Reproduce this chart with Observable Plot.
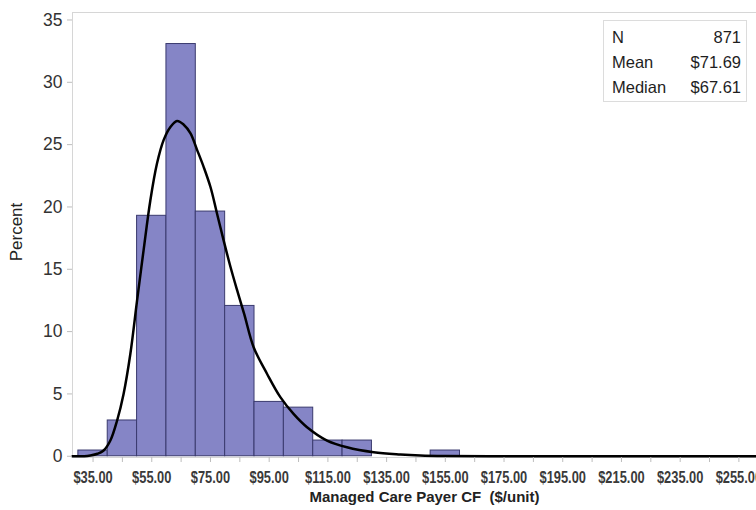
<!DOCTYPE html>
<html>
<head>
<meta charset="utf-8">
<script src="https://cdn.jsdelivr.net/npm/d3@7"></script>
<script src="https://cdn.jsdelivr.net/npm/@observablehq/plot@0.6"></script>
<style>
  html, body { margin: 0; padding: 0; background: #fff; }
  #wrap { position: relative; width: 756px; height: 510px; overflow: hidden;
          font-family: "Liberation Sans", Arial, Helvetica, sans-serif; }
  #stats { position: absolute; left: 603px; top: 20px; width: 144px; height: 82px;
           border: 1px solid #dcdcdc; box-sizing: border-box; background: #fff;
           font-size: 16.5px; color: #1e1e1e; padding: 4px 5px 0 8px; }
  #stats .row { display: flex; justify-content: space-between; height: 25px; line-height: 25px; }
</style>
</head>
<body>
<div id="wrap"></div>
<script>
// Histogram bins (lower edge, $) and percent of observations
const binWidth = 10;
const binStart   = [30, 40, 50, 60, 70, 80, 90, 100, 110, 120, 150];
const binPercent = [0.46, 2.87, 19.29, 33.07, 19.63, 12.06, 4.36, 3.90, 1.26, 1.26, 0.46];

// Fitted density curve
const curveX = [28, 32, 34.1, 36.5, 38.6, 40.9, 43.2, 45.4, 47.7, 50, 52.2, 54.5, 56.8, 59.1, 61.3, 63.6,
                65.9, 68.2, 70.4, 72.7, 75, 77.2, 79.5, 81.8, 84.1, 86.5, 89.7, 94.3, 98.8, 103.3,
                107.9, 114.7, 121.5, 130.6, 139.7, 146.5, 155, 170, 200, 230, 261];
const curveY = [0, 0, 0.06, 0.2, 0.46, 1.26, 2.87, 5.0, 8.2, 12.5, 16.5, 20.5, 23.5, 25.4, 26.4, 26.9,
                26.6, 25.9, 24.6, 23.2, 21.6, 19.5, 17.3, 15.2, 13.3, 11.4, 8.75, 6.6, 4.74, 3.4,
                2.33, 1.26, 0.72, 0.32, 0.14, 0.06, 0.02, 0, 0, 0, 0];

// Axis ticks
const yTicks = [0, 5, 10, 15, 20, 25, 30, 35];
const xLabelTicks = [35, 55, 75, 95, 115, 135, 155, 175, 195, 215, 235, 255];
const xMinorTicks = [35, 45, 55, 65, 75, 85, 95, 105, 115, 125, 135, 145, 155, 165, 175, 185, 195, 205, 215, 225, 235, 245, 255];

const xTitle = "Managed Care Payer CF\u00a0\u00a0($/unit)";
const yTitle = "Percent";

const stats = [
  {label: "N", value: "871"},
  {label: "Mean", value: "$71.69"},
  {label: "Median", value: "$67.61"}
];

const bins = binStart.map((s, i) => ({x1: s, x2: s + binWidth, pct: binPercent[i]}));
const curve = curveX.map((x, i) => ({x, y: curveY[i]}));

const chart = Plot.plot({
  width: 756,
  height: 510,
  marginLeft: 72,
  marginRight: 0,
  marginTop: 12,
  marginBottom: 53,
  style: {fontFamily: '"Liberation Sans", Arial, sans-serif', background: "#fff"},
  x: {domain: [28, 261]},
  y: {domain: [-0.1, 35.6]},
  marks: [
    Plot.frame({stroke: "#d6d6d6"}),
    Plot.rect(bins, {x1: "x1", x2: "x2", y1: 0, y2: "pct", fill: "#8585c6", stroke: "#3a3a6e", strokeWidth: 1}),
    Plot.line(curve, {x: "x", y: "y", stroke: "#000", strokeWidth: 2.5, curve: "catmull-rom"}),
    Plot.axisY({ticks: yTicks, tickSize: 5, tickPadding: 5, fontSize: 17.5, stroke: "#bdbdbd", fill: "#333", label: null}),
    Plot.axisX({ticks: xMinorTicks, tickSize: 5, tickFormat: () => "", stroke: "#bdbdbd", label: null}),
    Plot.axisX({ticks: xLabelTicks, tickSize: 0, tickPadding: 14, tickFormat: d => "$" + d.toFixed(2),
                fontSize: 16.5, fontWeight: "bold", fill: "#3a3a3a", label: null}),
    Plot.text([xTitle], {frameAnchor: "bottom", dx: 10, dy: 40, fontSize: 15, fontWeight: "bold",
                         fill: "#222", lineAnchor: "middle", textAnchor: "middle"}),
    Plot.text([yTitle], {frameAnchor: "left", dx: -56, dy: -3, rotate: -90, fontSize: 17,
                         fill: "#222", lineAnchor: "middle", textAnchor: "middle"})
  ]
});

// Condense the x tick labels horizontally, like the reference's narrow face
chart.querySelectorAll('g[aria-label="x-axis tick label"] text').forEach(t => {
  const tr = t.getAttribute("transform") || "";
  t.setAttribute("transform", tr + " scale(0.78,1)");
});

const wrap = document.getElementById("wrap");
wrap.appendChild(chart);

const box = document.createElement("div");
box.id = "stats";
for (const s of stats) {
  const row = document.createElement("div");
  row.className = "row";
  const a = document.createElement("span"); a.textContent = s.label;
  const b = document.createElement("span"); b.textContent = s.value;
  row.appendChild(a); row.appendChild(b);
  box.appendChild(row);
}
wrap.appendChild(box);
</script>
</body>
</html>
